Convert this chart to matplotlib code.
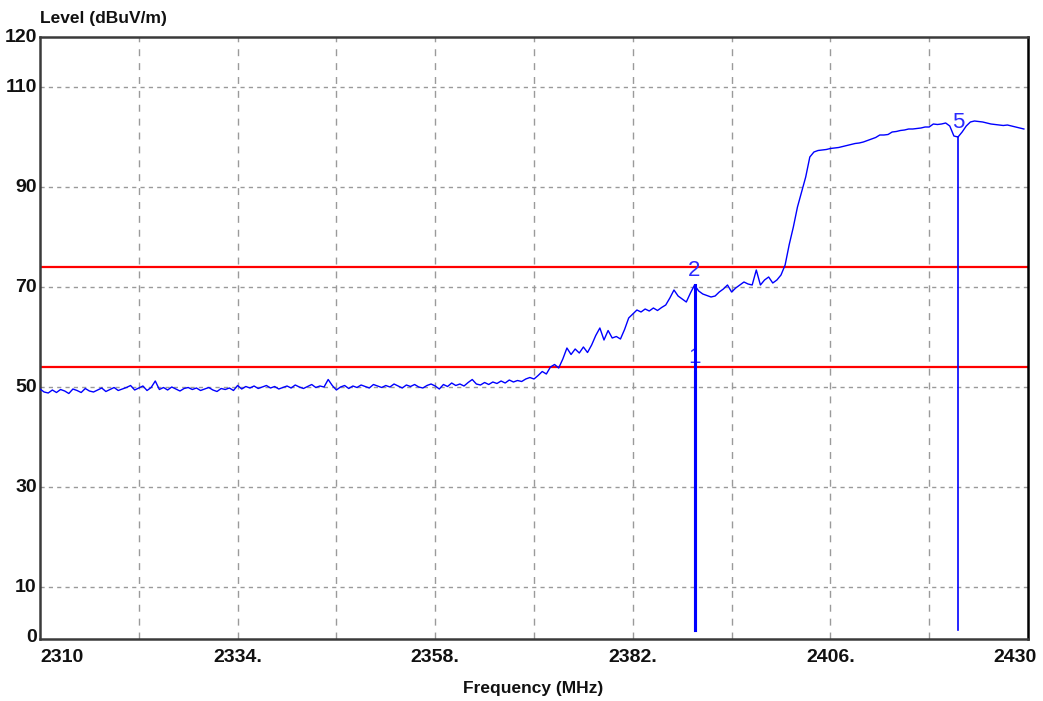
import numpy as np
import matplotlib
matplotlib.use("Agg")
import matplotlib.pyplot as plt

plt.rcParams['font.family'] = ['Liberation Sans Narrow', 'Liberation Sans', 'DejaVu Sans']

# ---- data -------------------------------------------------------------
freq_start = 2310.0
freq_stop = 2429.5
level = [
    # 2310.0 - 2321.5
    49.6, 49.0, 48.8, 49.4, 48.9, 49.5, 49.2, 48.7, 49.6, 49.3, 48.9, 49.7,
    49.2, 49.0, 49.4, 49.8, 49.1, 49.5, 49.9, 49.3, 49.6, 49.9, 50.3, 49.4,
    # 2322.0 - 2333.5
    49.8, 50.2, 49.3, 49.9, 51.2, 49.5, 49.9, 49.4, 50.0, 49.6, 49.2, 49.7,
    49.9, 49.5, 49.8, 49.3, 49.6, 49.9, 49.4, 49.1, 49.7, 49.5, 49.8, 49.3,
    # 2334.0 - 2345.5
    50.3, 49.6, 50.1, 49.8, 50.2, 49.7, 50.0, 50.3, 49.8, 50.1, 49.6, 49.9,
    50.2, 49.8, 50.4, 50.0, 49.7, 50.1, 50.5, 49.9, 50.2, 50.0, 51.5, 50.3,
    # 2346.0 - 2357.5
    49.4, 50.0, 50.3, 49.7, 50.2, 49.9, 50.4, 50.1, 49.8, 50.5, 50.2, 49.9,
    50.3, 50.0, 50.6, 50.2, 49.8, 50.4, 50.1, 50.5, 50.0, 49.8, 50.3, 50.6,
    # 2358.0 - 2369.5
    50.2, 49.6, 50.5, 50.1, 50.8, 50.3, 50.6, 50.2, 50.9, 51.5, 50.6, 50.4,
    50.9, 50.5, 51.0, 50.7, 51.2, 50.8, 51.4, 51.0, 51.3, 51.1, 51.6, 51.9,
    # 2370.0 - 2381.5
    51.6, 52.3, 53.1, 52.6, 54.0, 54.5, 53.8, 55.6, 57.8, 56.5, 57.6, 56.8,
    58.0, 56.9, 58.4, 60.3, 61.8, 59.4, 61.3, 59.8, 60.1, 59.6, 61.5, 63.8,
    # 2382.0 - 2393.5
    64.6, 65.4, 65.0, 65.6, 65.2, 65.8, 65.3, 65.9, 66.4, 67.8, 69.4, 68.2,
    67.6, 67.0, 68.8, 70.4, 69.2, 68.6, 68.3, 68.0, 68.2, 69.0, 69.6, 70.4,
    # 2394.0 - 2405.5
    69.0, 69.8, 70.4, 71.0, 70.6, 70.4, 73.4, 70.4, 71.4, 72.0, 70.8, 71.4,
    72.4, 74.4, 78.5, 82.0, 86.0, 89.0, 92.0, 96.0, 97.0, 97.3, 97.4, 97.5,
    # 2406.0 - 2417.5
    97.7, 97.8, 97.9, 98.1, 98.3, 98.5, 98.7, 98.8, 99.0, 99.3, 99.6, 99.9,
    100.4, 100.4, 100.5, 101.0, 101.1, 101.3, 101.4, 101.6, 101.6, 101.7, 101.8, 102.0,
    # 2418.0 - 2429.5
    102.0, 102.6, 102.5, 102.6, 102.8, 102.2, 100.2, 100.0, 101.0, 102.2, 103.0, 103.2,
    103.1, 103.0, 102.8, 102.6, 102.5, 102.4, 102.3, 102.4, 102.2, 102.0, 101.8, 101.6,
]
freq = np.linspace(freq_start, freq_stop, len(level))

limit_lines = [74, 54]
marker_labels = ['1', '2', '5']
marker_freqs = [2389.5, 2389.5, 2421.5]
marker_levels = [53.0, 70.4, 100.0]
marker_widths = [2.2, 2.2, 1.2]

x_ticks = [2310, 2334, 2358, 2382, 2406, 2430]
x_tick_labels = ['2310', '2334.', '2358.', '2382.', '2406.', '2430']
y_ticks = [0, 10, 30, 50, 70, 90, 110, 120]
y_tick_labels = ['0', '10', '30', '50', '70', '90', '110', '120']
x_grid = [2322, 2334, 2346, 2358, 2370, 2382, 2394, 2406, 2418]
y_grid = [10, 30, 50, 70, 90, 110]

# ---- figure -----------------------------------------------------------
W, H = 1043, 701
fig = plt.figure(figsize=(W / 100, H / 100), dpi=100)
ax = fig.add_axes([40 / W, 1 - 639 / H, (1028 - 40) / W, (639 - 37) / H])
ax.set_xlim(2310, 2430)
ax.set_ylim(-0.4, 120)

for g in x_grid:
    ax.axvline(g, color='#9a9a9a', lw=1.0, ls=(0, (5, 5)), zorder=1)
for g in y_grid:
    ax.axhline(g, color='#9a9a9a', lw=1.0, ls=(0, (3, 3)), zorder=1)

for lv in limit_lines:
    ax.axhline(lv, color='#ff0000', lw=1.6, zorder=2)

ax.plot(freq, level, color='#0000ff', lw=1.0, zorder=3)

for lab, mf, ml, mw in zip(marker_labels, marker_freqs, marker_levels, marker_widths):
    ax.plot([mf, mf], [1.4, ml], color='#0000ff', lw=mw, zorder=5)
    ax.text(mf, ml + 3.0, lab, color='#2a2aff', fontsize=16,
            ha='center', va='center', zorder=4)

ax.set_xticks([])
ax.set_yticks([])
for s in ax.spines.values():
    s.set_color('#3a3a3a')
    s.set_linewidth(1.8)
ax.spines['right'].set_color('#000000')

lab_font = dict(fontsize=14, fontweight='bold', color='#111111')
for t, s in zip(x_ticks, x_tick_labels):
    if t == x_ticks[0]:
        ha, xx = 'left', t
    elif t == x_ticks[-1]:
        ha, xx = 'right', t + 1.0
    else:
        ha, xx = 'center', t
    ax.text(xx, -2.4, s, ha=ha, va='top', **lab_font)
for t, s in zip(y_ticks, y_tick_labels):
    ax.text(2309.6, t, s, ha='right', va='center', **lab_font)

fig.text(40 / W, 1 - 18 / H, 'Level (dBuV/m)', ha='left', va='center',
         fontsize=12.5, fontweight='bold', color='#111111')
fig.text(533 / W, 1 - 688 / H, 'Frequency (MHz)', ha='center', va='center',
         fontsize=12.5, fontweight='bold', color='#111111')

fig.savefig('out.png', dpi=100)
